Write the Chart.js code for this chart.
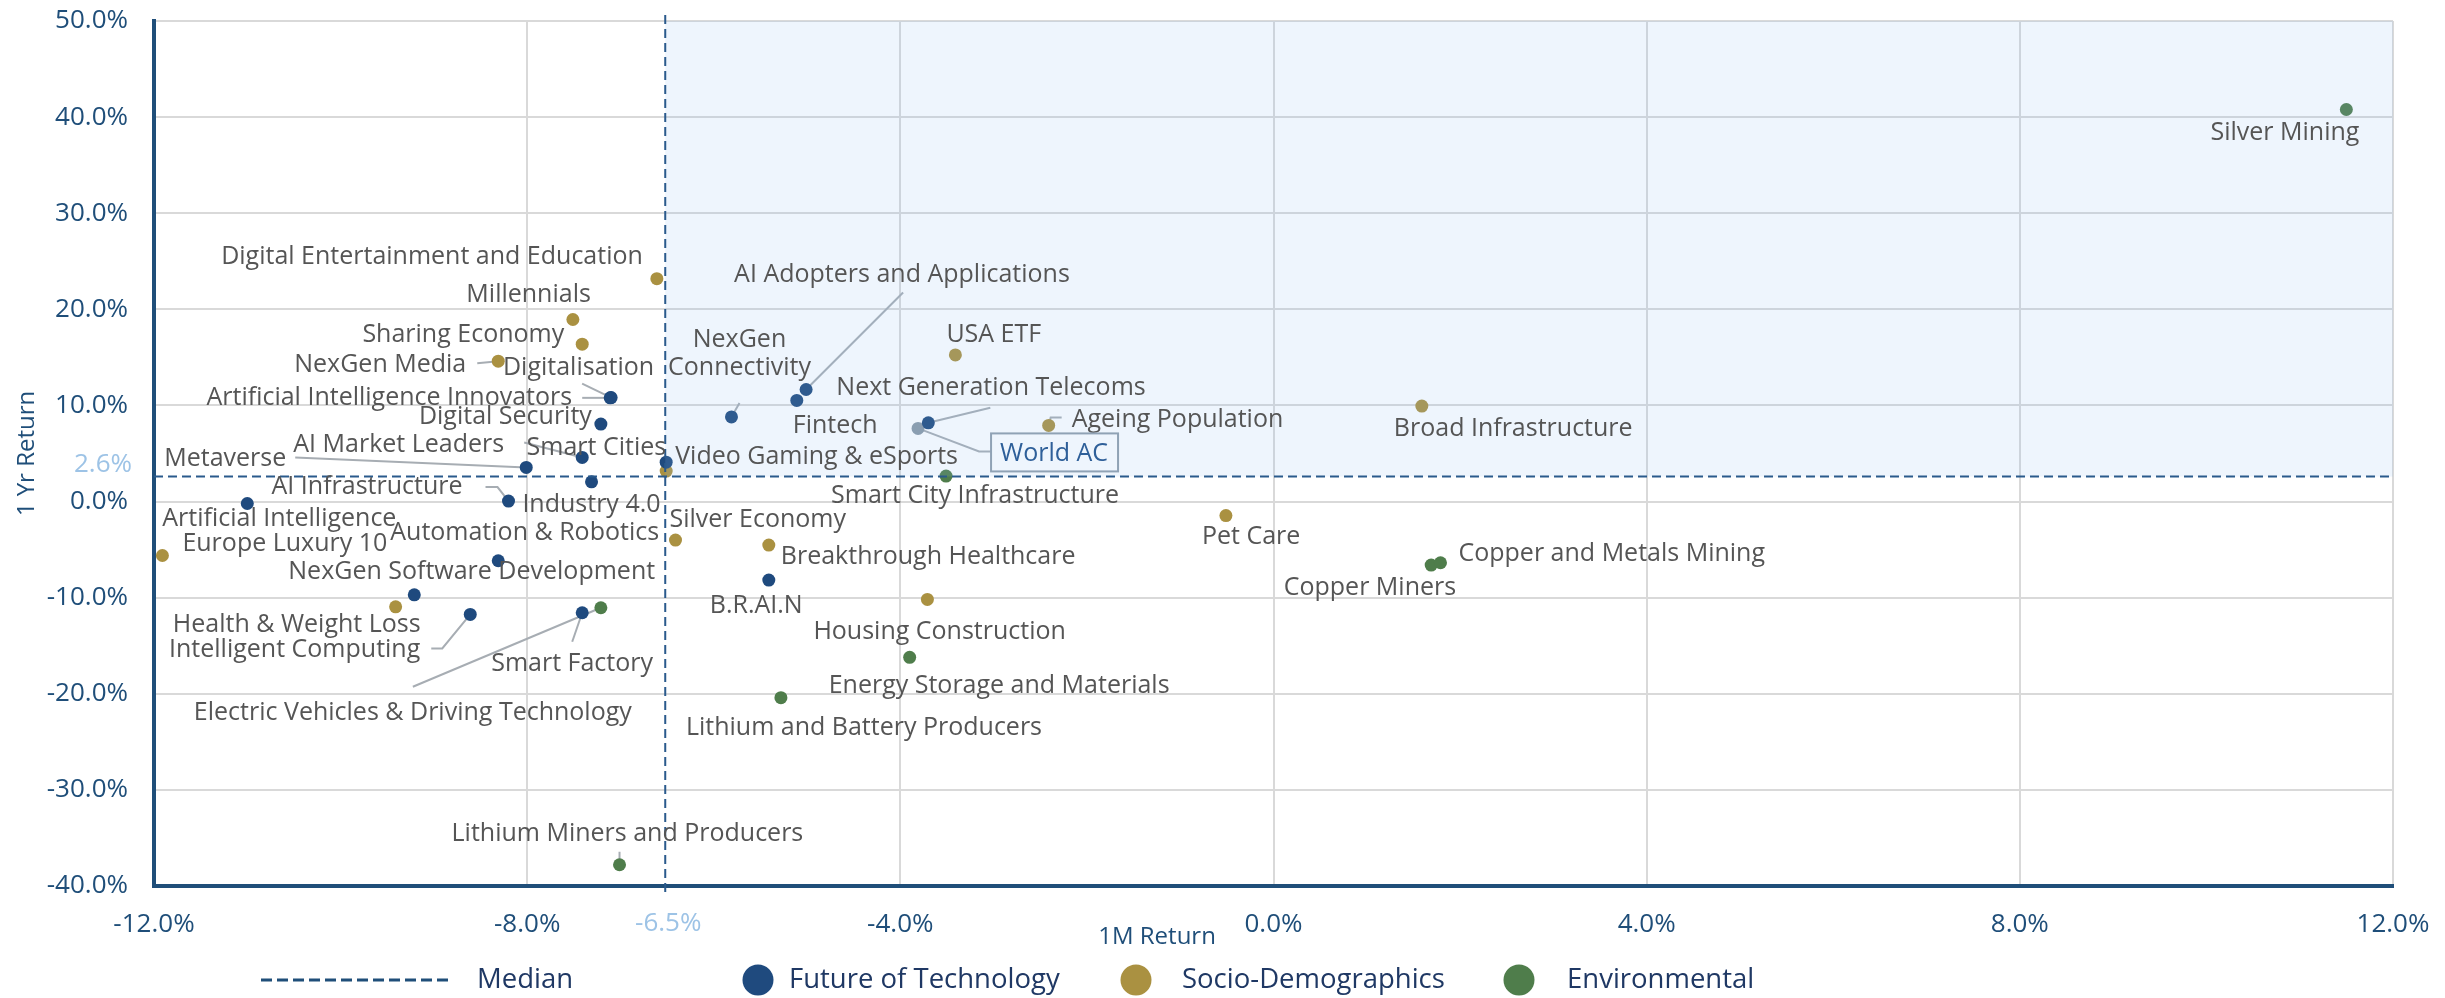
<!DOCTYPE html>
<html>
<head>
<meta charset="utf-8">
<script src="https://cdn.jsdelivr.net/npm/chart.js@4.4.1/dist/chart.umd.min.js"></script>
<style>
  html, body { margin: 0; padding: 0; background: #fff; }
  #wrap { width: 2445px; height: 998px; position: relative; }
</style>
</head>
<body>
<div id="wrap"><canvas id="chart"></canvas></div>
<script>
// Future of Technology
const techNames = ['AI Adopters and Applications', 'Fintech', 'NexGen Connectivity', 'Next Generation Telecoms',
  'Artificial Intelligence Innovators', 'Digitalisation', 'Digital Security', 'AI Market Leaders', 'Smart Cities',
  'Metaverse', 'Industry 4.0', 'AI Infrastructure', 'Artificial Intelligence', 'Automation & Robotics',
  'NexGen Software Development', 'Intelligent Computing', 'Smart Factory', 'B.R.AI.N'];
const techX = [-5.01, -5.11, -5.81, -3.70, -7.11, -7.10, -7.21, -7.41, -6.51, -8.01, -7.31, -8.20, -11.00, -8.31, -9.21, -8.61, -7.41, -5.41];
const techY = [11.66, 10.52, 8.81, 8.19, 10.79, 10.82, 8.06, 4.59, 4.10, 3.55, 2.05, 0.05, -0.20, -6.16, -9.70, -11.74, -11.57, -8.17];

// Socio-Demographics
const socioNames = ['Digital Entertainment and Education', 'Millennials', 'Sharing Economy', 'NexGen Media', 'USA ETF',
  'Ageing Population', 'Broad Infrastructure', 'Video Gaming & eSports', 'Silver Economy', 'Breakthrough Healthcare',
  'Pet Care', 'Europe Luxury 10', 'Health & Weight Loss', 'Housing Construction'];
const socioX = [-6.61, -7.51, -7.41, -8.31, -3.41, -2.41, 1.59, -6.51, -6.41, -5.41, -0.51, -11.91, -9.41, -3.71];
const socioY = [23.19, 18.94, 16.38, 14.61, 15.26, 7.92, 9.93, 3.17, -4.01, -4.53, -1.46, -5.61, -10.95, -10.18];

// Environmental
const envNames = ['Silver Mining', 'Smart City Infrastructure', 'Copper Miners', 'Copper and Metals Mining',
  'Electric Vehicles & Driving Technology', 'Energy Storage and Materials', 'Lithium and Battery Producers',
  'Lithium Miners and Producers'];
const envX = [11.50, -3.51, 1.69, 1.79, -7.21, -3.90, -5.28, -7.01];
const envY = [40.79, 2.65, -6.61, -6.37, -11.05, -16.21, -20.41, -37.79];

// benchmark
const benchNames = ['World AC'];
const benchX = [-3.81];
const benchY = [7.61];

// medians
const medianX = -6.52;
const medianY = 2.6;
const medianXLabel = '-6.5%';
const medianYLabel = '2.6%';

const legendNames = ['Median', 'Future of Technology', 'Socio-Demographics', 'Environmental'];

// label placement, pixels from the point (l/r/c = text anchored left/right/centre)
const labelPos = {
  'AI Adopters and Applications': { dx: -72, dy: -115, a: 'l', lead: [[97, -97]] },
  'Fintech': { dx: -4, dy: 25, a: 'l' },
  'NexGen Connectivity': { dx: 8, dy: -77, a: 'c', br: true, lead: [[8, -14]] },
  'Next Generation Telecoms': { dx: -92, dy: -35, a: 'l', lead: [[62, -15]] },
  'Artificial Intelligence Innovators': { dx: -38, dy: 0, a: 'r', lead: [[-28, 0]] },
  'Digitalisation': { dx: 43, dy: -30, a: 'r', lead: [[-29, -14]] },
  'Digital Security': { dx: -9, dy: -7, a: 'r' },
  'AI Market Leaders': { dx: -78, dy: -13, a: 'r', lead: [[-58, -15]] },
  'Smart Cities': { dx: 0, dy: -14, a: 'r' },
  'Metaverse': { dx: -240, dy: -9, a: 'r', lead: [[-231, -10]] },
  'Industry 4.0': { dx: 69, dy: 23, a: 'r' },
  'AI Infrastructure': { dx: -46, dy: -14, a: 'r', lead: [[-23, -14], [-11, -14]] },
  'Artificial Intelligence': { dx: -85, dy: 15, a: 'l' },
  'Automation & Robotics': { dx: -108, dy: -28, a: 'l' },
  'NexGen Software Development': { dx: -126, dy: -23, a: 'l' },
  'Intelligent Computing': { dx: -50, dy: 35, a: 'r', lead: [[-39, 34], [-28, 34]] },
  'Smart Factory': { dx: -91, dy: 51, a: 'l', lead: [[-10, 29]] },
  'B.R.AI.N': { dx: -59, dy: 26, a: 'l' },
  'Digital Entertainment and Education': { dx: -14, dy: -22, a: 'r' },
  'Millennials': { dx: 18, dy: -25, a: 'r' },
  'Sharing Economy': { dx: -18, dy: -9, a: 'r' },
  'NexGen Media': { dx: -32, dy: 4, a: 'r', lead: [[-21, 2]] },
  'USA ETF': { dx: -9, dy: -20, a: 'l' },
  'Ageing Population': { dx: 23, dy: -6, a: 'l', lead: [[13, -8], [2, -8]] },
  'Broad Infrastructure': { dx: -28, dy: 23, a: 'l' },
  'Video Gaming & eSports': { dx: 9, dy: -14, a: 'l' },
  'Silver Economy': { dx: -6, dy: -20, a: 'l' },
  'Breakthrough Healthcare': { dx: 12, dy: 12, a: 'l' },
  'Pet Care': { dx: -24, dy: 21, a: 'l' },
  'Europe Luxury 10': { dx: 20, dy: -12, a: 'l' },
  'Health & Weight Loss': { dx: 25, dy: 18, a: 'r' },
  'Housing Construction': { dx: -114, dy: 32, a: 'l' },
  'Silver Mining': { dx: 13, dy: 23, a: 'r' },
  'Smart City Infrastructure': { dx: -115, dy: 20, a: 'l' },
  'Copper Miners': { dx: 25, dy: 23, a: 'r' },
  'Copper and Metals Mining': { dx: 18, dy: -9, a: 'l' },
  'Electric Vehicles & Driving Technology': { dx: -407, dy: 105, a: 'l', lead: [[-188, 79]] },
  'Energy Storage and Materials': { dx: -81, dy: 29, a: 'l' },
  'Lithium and Battery Producers': { dx: -95, dy: 30, a: 'l' },
  'Lithium Miners and Producers': { dx: -168, dy: -31, a: 'l', lead: [[0, -13]] },
  'World AC': { dx: 82, dy: 25, a: 'l', box: true, lead: [[73, 23], [61, 23]] }
};

const NAVY = '#1F4A7E';
const GOLD = '#AA9141';
const GREEN = '#4F7D4B';
const GREY = '#8A99A6';
const AXIS = '#1F4E79';
const FONT = '"Open Sans", "DejaVu Sans", sans-serif';

const toPoints = (xs, ys) => xs.map((x, i) => ({ x: x, y: ys[i] }));

function series(label, names, xs, ys, color) {
  return {
    label: label,
    names: names,
    data: toPoints(xs, ys),
    backgroundColor: color,
    borderWidth: 0,
    pointRadius: 6.5,
    pointHoverRadius: 6.5
  };
}

const decor = {
  id: 'decor',
  beforeDatasetsDraw(chart) {
    // leader lines go under the points
    const ctx = chart.ctx;
    ctx.save();
    ctx.strokeStyle = '#A7ADB3';
    ctx.lineWidth = 2;
    chart.data.datasets.forEach((ds, i) => {
      const meta = chart.getDatasetMeta(i);
      ds.names.forEach((name, j) => {
        const p = labelPos[name];
        if (!p || !p.lead) return;
        const pt = meta.data[j];
        ctx.beginPath();
        p.lead.forEach((o, k) => {
          if (k === 0) ctx.moveTo(pt.x + o[0], pt.y + o[1]);
          else ctx.lineTo(pt.x + o[0], pt.y + o[1]);
        });
        ctx.lineTo(pt.x, pt.y);
        ctx.stroke();
      });
    });
    ctx.restore();
  },
  afterDatasetsDraw(chart) {
    const ctx = chart.ctx;
    const area = chart.chartArea;
    const xs = chart.scales.x, ys = chart.scales.y;
    const mx = xs.getPixelForValue(medianX);
    const my = ys.getPixelForValue(medianY);
    ctx.save();

    // above-median quadrant
    ctx.fillStyle = 'rgba(141, 188, 241, 0.15)';
    ctx.fillRect(mx, area.top, area.right - mx, my - area.top);

    // median lines
    ctx.strokeStyle = '#2A5A8C';
    ctx.lineWidth = 2;
    ctx.setLineDash([9, 5]);
    ctx.beginPath();
    ctx.moveTo(area.left, my);
    ctx.lineTo(area.right, my);
    ctx.moveTo(mx, area.top - 6);
    ctx.lineTo(mx, area.bottom + 6);
    ctx.stroke();
    ctx.setLineDash([]);

    // point labels
    ctx.font = '25px ' + FONT;
    ctx.textBaseline = 'middle';
    chart.data.datasets.forEach((ds, i) => {
      const meta = chart.getDatasetMeta(i);
      ds.names.forEach((name, j) => {
        const p = labelPos[name];
        if (!p) return;
        const pt = meta.data[j];
        const x = pt.x + p.dx, y = pt.y + p.dy;
        ctx.textAlign = p.a === 'l' ? 'left' : p.a === 'r' ? 'right' : 'center';
        const lines = p.br ? name.split(' ') : [name];
        if (p.box) {
          const w = ctx.measureText(name).width;
          ctx.strokeStyle = '#8FA2B5';
          ctx.lineWidth = 2;
          ctx.strokeRect(x - 9, y - 20, w + 19, 38);
          ctx.fillStyle = '#2E5F99';
        } else {
          ctx.fillStyle = '#555555';
        }
        lines.forEach((line, k) => ctx.fillText(line, x, y + k * 28));
      });
    });
    ctx.restore();
  },
  afterDraw(chart) {
    const ctx = chart.ctx;
    const area = chart.chartArea;
    const xs = chart.scales.x, ys = chart.scales.y;
    const mx = xs.getPixelForValue(medianX);
    const my = ys.getPixelForValue(medianY);
    ctx.save();

    // median tick labels
    ctx.font = '26px ' + FONT;
    ctx.fillStyle = '#9DC3E6';
    ctx.textBaseline = 'middle';
    ctx.textAlign = 'right';
    ctx.fillText(medianYLabel, area.left - 22, my - 12);
    ctx.textAlign = 'center';
    ctx.fillText(medianXLabel, mx + 3, area.bottom + 38);

    // axis titles
    ctx.font = '24px ' + FONT;
    ctx.fillStyle = AXIS;
    ctx.fillText('1M Return', area.left + (area.right - area.left) * 0.448, area.bottom + 51);
    ctx.save();
    ctx.translate(27, (area.top + area.bottom) / 2);
    ctx.rotate(-Math.PI / 2);
    ctx.fillText('1 Yr Return', 0, 0);
    ctx.restore();

    // legend
    const ly = 980;
    ctx.strokeStyle = AXIS;
    ctx.lineWidth = 3;
    ctx.setLineDash([11, 5]);
    ctx.beginPath();
    ctx.moveTo(261, ly);
    ctx.lineTo(450, ly);
    ctx.stroke();
    ctx.setLineDash([]);
    ctx.font = '27.5px ' + FONT;
    ctx.fillStyle = '#1F3864';
    ctx.textAlign = 'left';
    ctx.fillText(legendNames[0], 477, ly);
    const dots = [[758, 789, NAVY], [1136, 1182, GOLD], [1519, 1567, GREEN]];
    dots.forEach((d, i) => {
      ctx.fillStyle = d[2];
      ctx.beginPath();
      ctx.arc(d[0], ly, 15.5, 0, Math.PI * 2);
      ctx.fill();
      ctx.fillStyle = '#1F3864';
      ctx.fillText(legendNames[i + 1], d[1], ly);
    });
    ctx.restore();
  }
};

new Chart(document.getElementById('chart'), {
  type: 'scatter',
  data: {
    datasets: [
      series('Future of Technology', techNames, techX, techY, NAVY),
      series('Socio-Demographics', socioNames, socioX, socioY, GOLD),
      series('Environmental', envNames, envX, envY, GREEN),
      series('World AC', benchNames, benchX, benchY, GREY)
    ]
  },
  options: {
    responsive: true,
    maintainAspectRatio: false,
    animation: false,
    layout: { padding: { left: 0, right: 52, top: 21, bottom: 0 } },
    plugins: {
      legend: { display: false },
      tooltip: { enabled: false }
    },
    scales: {
      x: {
        type: 'linear',
        min: -12,
        max: 12,
        afterFit: (scale) => {
          scale.height = 112;
          scale.paddingLeft = 0;
          scale.paddingRight = 0;
        },
        ticks: {
          stepSize: 4,
          padding: 23,
          color: AXIS,
          font: { family: FONT, size: 26 },
          callback: (v) => v.toFixed(1) + '%'
        },
        grid: { color: '#D9D9D9', lineWidth: 2, drawTicks: false },
        border: { color: AXIS, width: 4 }
      },
      y: {
        type: 'linear',
        min: -40,
        max: 50,
        afterFit: (scale) => {
          scale.width = 154;
          scale.paddingTop = 0;
          scale.paddingBottom = 0;
        },
        ticks: {
          stepSize: 10,
          padding: 26,
          color: AXIS,
          font: { family: FONT, size: 26 },
          callback: (v) => v.toFixed(1) + '%'
        },
        grid: { color: '#D9D9D9', lineWidth: 2, drawTicks: false },
        border: { color: AXIS, width: 4 }
      }
    }
  },
  plugins: [decor]
});
</script>
</body>
</html>
